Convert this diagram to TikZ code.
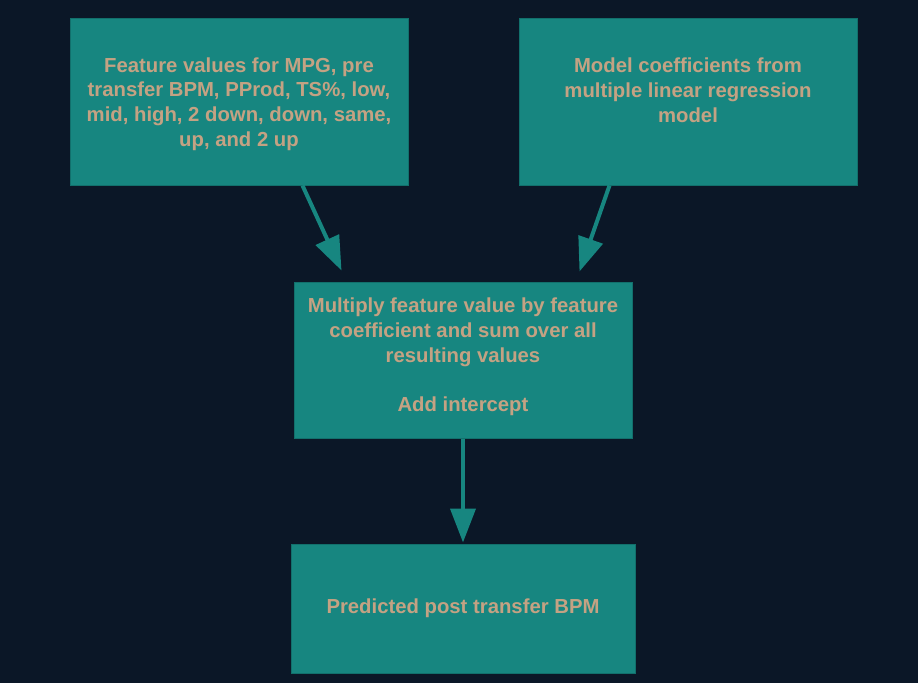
\documentclass[tikz,border=0pt]{standalone}
\usepackage{fontspec}
\setmainfont{Liberation Sans}
\usetikzlibrary{arrows.meta,calc}
\definecolor{bgc}{HTML}{0B1727}
\definecolor{boxc}{HTML}{178680}
\definecolor{boxline}{HTML}{12706C}
\definecolor{txtc}{HTML}{C4A283}
\tikzset{
  box/.style={draw=boxline, line width=1pt, fill=boxc, inner sep=0pt, rectangle},
  lbl/.style={text=txtc, align=center, inner sep=0pt, font=\bfseries\fontsize{20.3}{24.8}\selectfont},
  conn/.style={draw=boxc, line width=4pt, -{Triangle[length=34pt,width=25pt]}}
}
\begin{document}
\begin{tikzpicture}[x=1pt,y=1pt]
\fill[bgc] (0,0) rectangle (918,-683);
\useasboundingbox (0,0) rectangle (918,-683);
\node[box, minimum width=338pt, minimum height=167pt] (b1) at (239,-101.5) {};
\node[box, minimum width=338pt, minimum height=167pt] (b2) at (688,-101.5) {};
\node[box, minimum width=338pt, minimum height=156pt] (b3) at (463,-360) {};
\node[box, minimum width=344pt, minimum height=129pt] (b4) at (463,-608.5) {};
\node[lbl] (t1) at (239,-104) {Feature values for MPG, pre\\transfer BPM, PProd, TS\%, low,\\mid, high, 2 down, down, same,\\up, and 2 up};
\node[lbl] (t2) at (688,-90) {Model coefficients from\\multiple linear regression\\model};
\node[lbl] (t3) at (463,-357) {Multiply feature value by feature\\coefficient and sum over all\\resulting values\\[24.8pt]Add intercept};
\node[lbl] (t4) at (463,-608) {Predicted post transfer BPM};
\draw[conn] ($(b1.south west)+(233,0)$) -- ($(b3.north west)+(48,11)$);
\draw[conn] ($(b2.south west)+(91,0)$) -- ($(b3.north west)+(286,10)$);
\draw[conn] (b3.south) -- ($(b4.north)+(0,1)$);
\end{tikzpicture}
\end{document}
